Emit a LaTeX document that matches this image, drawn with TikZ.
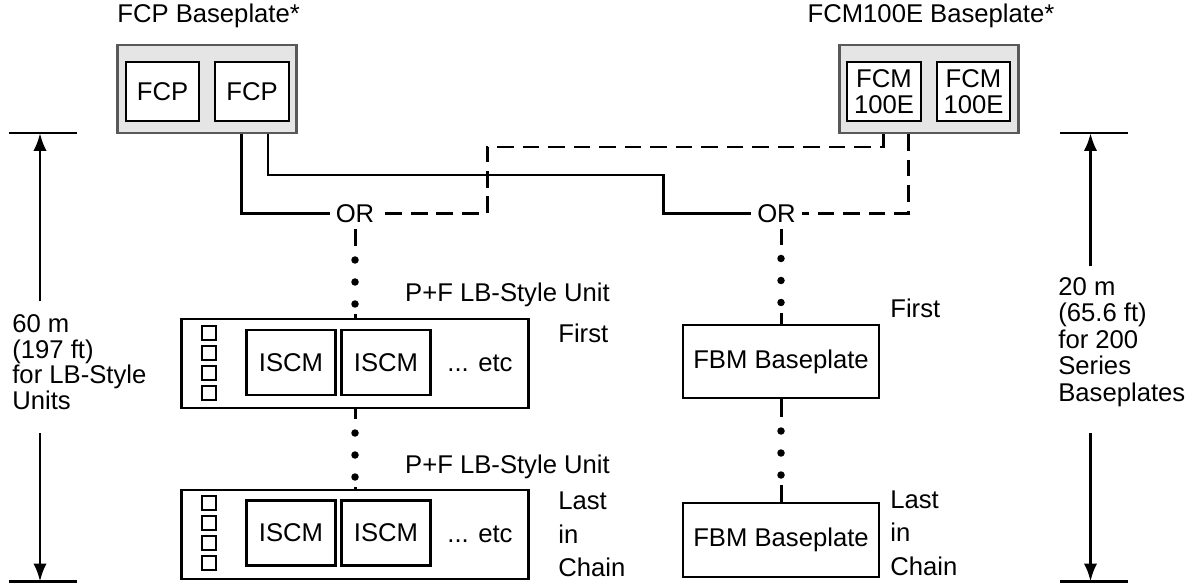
\documentclass[tikz,border=0pt]{standalone}
\usepackage{fontspec}
\setmainfont{Liberation Sans}
\usetikzlibrary{shapes,arrows.meta,calc}
\tikzstyle{base} = [rectangle, draw=black!65, fill=black!10, line width=1.5pt,
    minimum width=3.58cm, minimum height=1.76cm]
\tikzstyle{module} = [rectangle, draw, fill=white, line width=1.4pt, align=center,
    minimum width=1.47cm, minimum height=1.18cm, inner sep=0pt,
    font=\fontsize{14.6}{14.8}\selectfont]
\tikzstyle{unit} = [rectangle, draw, line width=1.7pt, minimum width=6.93cm, minimum height=1.78cm]
\tikzstyle{iscm} = [rectangle, draw, line width=1.3pt, minimum width=1.78cm, minimum height=1.3cm]
\tikzstyle{led} = [rectangle, draw, line width=1.2pt, minimum size=0.27cm, inner sep=0pt]
\tikzstyle{fbm} = [rectangle, draw, line width=1.3pt, minimum width=3.92cm, minimum height=1.47cm]
\tikzstyle{chaindot} = [circle, fill, minimum size=0.15cm, inner sep=0pt]
\tikzstyle{line} = [draw, line width=1.7pt]
\tikzstyle{dashline} = [line, dash pattern=on 9.5pt off 5pt]
\tikzstyle{tostub} = [line, shorten >=0.19cm]
\tikzstyle{fromstub} = [line, shorten <=0.12cm]
\tikzstyle{dimline} = [draw, line width=1.7pt, -{Latex[length=0.36cm,width=0.27cm]}]
\tikzstyle{note} = [align=left, inner sep=0pt, anchor=west]

\begin{document}
\begin{tikzpicture}[font=\fontsize{14.6}{15}\selectfont]
    \useasboundingbox (0,0) rectangle (23.94,11.66);
    % Place nodes
    \node [base] (fcpbase) at (4.14,9.88) {};
    \node [module] (fcpA) at (3.25,9.83) {FCP};
    \node [module, right of=fcpA, node distance=1.79cm] (fcpB) {FCP};
    \node [anchor=west, inner sep=0pt] (fcplabel) at (2.34,11.34) {FCP Baseplate*};
    \node [base] (fcmbase) at (18.58,9.88) {};
    \node [module] (fcmA) at (17.68,9.83) {FCM\\100E};
    \node [module, right of=fcmA, node distance=1.79cm] (fcmB) {FCM\\100E};
    \node [inner sep=0pt] (fcmlabel) at (18.62,11.34) {FCM100E Baseplate*};
    \node (orA) at (7.10,7.39) {OR};
    \node (orB) at (15.53,7.39) {OR};
    % LB-style units
    \node [unit] (unitA) at (7.10,4.39) {};
    \node [iscm] (iscmA) at (5.82,4.41) {ISCM};
    \node [iscm, right of=iscmA, node distance=1.9cm] (iscmB) {ISCM};
    \node (etcA) at (9.60,4.39) {... etc};
    \node [unit, below of=unitA, node distance=3.42cm] (unitB) {};
    \node [iscm, below of=iscmA, node distance=3.41cm] (iscmC) {ISCM};
    \node [iscm, right of=iscmC, node distance=1.9cm] (iscmD) {ISCM};
    \node [below of=etcA, node distance=3.42cm] (etcB) {... etc};
    \foreach \y [count=\i] in {5.0,4.6,4.2,3.8} {
        \node [led] (ledA\i) at (4.18,\y) {};
        \node [led, below of=ledA\i, node distance=3.4cm] (ledB\i) {};
    }
    \node (pfA) at (10.15,5.76) {P+F LB-Style Unit};
    \node (pfB) at (10.15,2.33) {P+F LB-Style Unit};
    \node [note] (firstA) at (11.16,5.0) {First};
    \node [note, font=\fontsize{14.6}{19}\selectfont] (lastA) at (11.16,0.97) {Last\\in\\Chain};
    % FBM baseplates
    \node [fbm] (fbmA) at (15.62,4.43) {FBM Baseplate};
    \node [fbm, below of=fbmA, node distance=3.57cm] (fbmB) {FBM Baseplate};
    \node [note] (firstB) at (17.8,5.5) {First};
    \node [note, font=\fontsize{14.6}{19}\selectfont] (lastB) at (17.8,1.0) {Last\\in\\Chain};
    % chain dots
    \foreach \y [count=\i] in {6.46,6.02,5.58} \node [chaindot] (dotA\i) at (7.10,\y) {};
    \foreach \y [count=\i] in {3.0,2.56,2.12} \node [chaindot] (dotB\i) at (7.10,\y) {};
    \foreach \y [count=\i] in {6.49,6.05,5.61} \node [chaindot] (dotC\i) at (15.62,\y) {};
    \foreach \y [count=\i] in {3.04,2.60,2.16} \node [chaindot] (dotD\i) at (15.62,\y) {};
    % dimensions
    \node [note, font=\fontsize{14.6}{14.5}\selectfont] (distL) at (0.24,4.42) {60 m\\(197 ft)\\for LB-Style\\Units};
    \node [note] (distR) at (21.16,4.82) {20 m\\(65.6 ft)\\for 200\\Series\\Baseplates};
    \coordinate (topL) at (0.80,9.0);
    \coordinate (botL) at (0.80,0.03);
    \coordinate (endL1) at (0.80,5.63);
    \coordinate (endL2) at (0.80,3.0);
    \coordinate (topR) at (21.81,9.0);
    \coordinate (botR) at (21.81,0.03);
    \coordinate (endR1) at (21.81,6.33);
    \coordinate (endR2) at (21.81,3.0);
    % Draw edges
    \path [line] ($(fcpbase.south)+(0.69,0)$) |- (orA.west);
    \path [line] ($(fcpbase.south)+(1.22,0)$) |- (13.26,8.16) |- (orB.west);
    \path [dashline] ($(fcmbase.south)+(-0.91,0)$) |- (9.74,8.72) |- (orA.east);
    \path [dashline] ($(fcmbase.south)+(-0.42,0)$) |- (orB.east);
    \path [tostub] (orA.south) -- (dotA1);
    \path [fromstub] (dotA3) -- (unitA);
    \path [tostub] (unitA) -- (dotB1);
    \path [fromstub] (dotB3) -- (unitB);
    \path [tostub] (orB.south -| fbmA) -- (dotC1);
    \path [fromstub] (dotC3) -- (fbmA);
    \path [tostub] (fbmA) -- (dotD1);
    \path [fromstub] (dotD3) -- (fbmB);
    \path [line] (0.18,9.0) -- (1.54,9.0);
    \path [line] (0.18,0.03) -- (1.54,0.03);
    \path [line] (21.2,9.0) -- (22.56,9.0);
    \path [line] (21.2,0.03) -- (22.56,0.03);
    \path [dimline] (endL1) -- (topL);
    \path [dimline] (endL2) -- (botL);
    \path [dimline] (endR1) -- (topR);
    \path [dimline] (endR2) -- (botR);
\end{tikzpicture}
\end{document}
